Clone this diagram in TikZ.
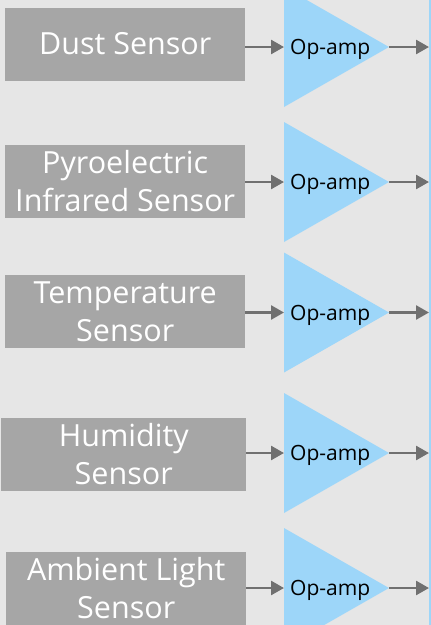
\documentclass[tikz,border=0pt]{standalone}
\usepackage{fontspec}
\setmainfont{Open Sans}
\usetikzlibrary{arrows.meta,shapes.geometric,positioning}
\definecolor{bgback}{HTML}{E6E6E6}
\definecolor{boxgray}{HTML}{A6A6A6}
\definecolor{ampblue}{HTML}{9DD6F9}
\definecolor{arrowgray}{HTML}{707070}

\tikzset{
  sensor/.style={fill=boxgray, text=white, align=center, inner sep=0pt,
    minimum height=73pt, font=\fontsize{30.5}{38}\selectfont},
  opamp/.style={isosceles triangle, isosceles triangle stretches,
    shape border rotate=0, fill=ampblue, inner sep=0pt, outer sep=0pt,
    minimum width=120pt, minimum height=105pt},
  amplabel/.style={inner sep=0pt, text depth=0pt, font=\fontsize{21}{24}\selectfont},
  sig/.style={draw=arrowgray, line width=2.6pt, -{Triangle[length=13pt,width=14pt]}}
}

\begin{document}
\begin{tikzpicture}[x=1pt,y=-1pt]
  \useasboundingbox (0,0) rectangle (431,625);
  \fill[bgback] (0,0) rectangle (431,625);
  \node[fill=ampblue, inner sep=0pt, minimum width=2pt, minimum height=625pt,
    anchor=north west] (bus) at (429,0) {};
  \foreach \n/\bx/\bw/\by/\ay/\txt in {
      1/5/240/44/47/{Dust Sensor},
      2/5/240/181.5/182/{Pyroelectric\\Infrared Sensor},
      3/5/240/311.5/312.5/{Temperature\\Sensor},
      4/1/245/454/453/{Humidity\\Sensor},
      5/6/240/588/588/{Ambient Light\\Sensor}} {
    \node[sensor, minimum width=\bw pt, anchor=west] (s\n) at (\bx,\by) {\txt};
    \node[opamp, anchor=west] (a\n) at (284,\ay) {};
    \node[amplabel, right=6pt of a\n.west] (l\n) {Op-amp};
    \draw[sig] (s\n.east |- a\n.west) -- (a\n.west);
    \draw[sig] (a\n.east) -- (a\n.east -| bus.west);
  }
\end{tikzpicture}
\end{document}
